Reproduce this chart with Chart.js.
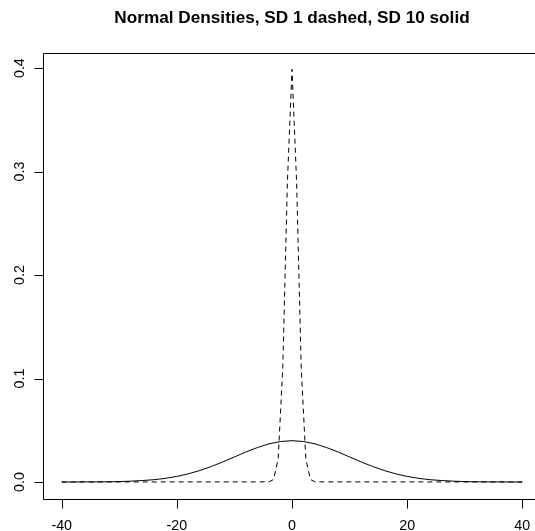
<!DOCTYPE html>
<html>
<head>
<meta charset="utf-8">
<script src="https://cdn.jsdelivr.net/npm/chart.js@4.4.1/dist/chart.umd.min.js"></script>
<style>
  html, body { margin: 0; padding: 0; background: #fff; overflow: hidden; }
  canvas { display: block; }
</style>
</head>
<body>
<canvas id="chart" width="560" height="531" style="width:560px;height:531px"></canvas>
<script>
const title = "Normal Densities, SD 1 dashed, SD 10 solid";
const xTicks = [-40, -20, 0, 20, 40];
const xTickLabels = ["-40", "-20", "0", "20", "40"];
const yTicks = [0, 0.1, 0.2, 0.3, 0.4];
const yTickLabels = ["0.0", "0.1", "0.2", "0.3", "0.4"];

// SD 10 curve (solid)
const sd10X = [-40, -38, -36, -34, -32, -30, -28, -26, -24, -22, -20, -18, -16, -14, -12, -10, -8, -6, -4, -2,
  0, 2, 4, 6, 8, 10, 12, 14, 16, 18, 20, 22, 24, 26, 28, 30, 32, 34, 36, 38, 40];
const sd10Y = [0, 0, 0.0001, 0.0001, 0.0002, 0.0004, 0.0008, 0.0014, 0.0022, 0.0035, 0.0054, 0.0079, 0.0111, 0.0150, 0.0194, 0.0242, 0.0290, 0.0333, 0.0368, 0.0391,
  0.0399, 0.0391, 0.0368, 0.0333, 0.0290, 0.0242, 0.0194, 0.0150, 0.0111, 0.0079, 0.0054, 0.0035, 0.0022, 0.0014, 0.0008, 0.0004, 0.0002, 0.0001, 0.0001, 0, 0];

// SD 1 curve (dashed)
const sd1X = [-40, -4, -3.2, -2.4, -1.6, -0.8, 0, 0.8, 1.6, 2.4, 3.2, 4, 40];
const sd1Y = [0, 0.0001, 0.0024, 0.0224, 0.1109, 0.2897, 0.3989, 0.2897, 0.1109, 0.0224, 0.0024, 0.0001, 0];

const toPoints = (xs, ys) => xs.map((x, i) => ({ x: x, y: ys[i] }));

const rAxes = {
  id: "rAxes",
  afterDraw(chart) {
    const ctx = chart.ctx;
    const a = chart.chartArea;
    const xs = chart.scales.x;
    const ys = chart.scales.y;
    ctx.save();
    ctx.strokeStyle = "#000";
    ctx.fillStyle = "#000";
    ctx.lineWidth = 1;
    // box
    const l = Math.round(a.left) + 0.5, t = Math.round(a.top) + 0.5;
    const r = Math.round(a.right) + 0.5, b = Math.round(a.bottom) + 0.5;
    ctx.beginPath();
    ctx.rect(l, t, r - l, b - t);
    ctx.stroke();
    // x ticks
    ctx.font = "14.3px 'Liberation Sans', Arial, sans-serif";
    ctx.textAlign = "center";
    ctx.textBaseline = "alphabetic";
    xTicks.forEach((v, i) => {
      const px = Math.round(xs.getPixelForValue(v)) + 0.5;
      ctx.beginPath();
      ctx.moveTo(px, b);
      ctx.lineTo(px, b + 9);
      ctx.stroke();
      ctx.fillText(xTickLabels[i], xs.getPixelForValue(v), 529.5);
    });
    // y ticks
    yTicks.forEach((v, i) => {
      const py = Math.round(ys.getPixelForValue(v)) + 0.5;
      ctx.beginPath();
      ctx.moveTo(l, py);
      ctx.lineTo(l - 9, py);
      ctx.stroke();
      ctx.save();
      ctx.translate(23.5, ys.getPixelForValue(v));
      ctx.rotate(-Math.PI / 2);
      ctx.fillText(yTickLabels[i], 0, 0);
      ctx.restore();
    });
    // title
    ctx.font = "bold 17.2px 'Liberation Sans', Arial, sans-serif";
    ctx.fillText(title, (a.left + a.right) / 2, 22.5);
    ctx.restore();
  }
};

const el = document.getElementById("chart");
const ctx = el.getContext("2d");
const myChart = new Chart(ctx, {
  type: "line",
  data: {
    datasets: [
      {
        label: "SD 10",
        data: toPoints(sd10X, sd10Y),
        borderColor: "#000",
        borderWidth: 1,
        pointRadius: 0,
        tension: 0,
        fill: false,
      },
      {
        label: "SD 1",
        data: toPoints(sd1X, sd1Y),
        borderColor: "#000",
        borderWidth: 1,
        borderDash: [5, 4],
        pointRadius: 0,
        tension: 0,
        fill: false,
      },
    ],
  },
  options: {
    responsive: false,
    animation: false,
    layout: { padding: { left: 43.3, top: 52.7, right: 19.3, bottom: 32.5 } },
    plugins: { legend: { display: false }, tooltip: { enabled: false }, title: { display: false } },
    scales: {
      x: { type: "linear", min: -43.2, max: 43.2, display: false },
      y: { type: "linear", min: -0.01596, max: 0.4149, display: false },
    },
  },
  plugins: [rAxes],
});
</script>
</body>
</html>
